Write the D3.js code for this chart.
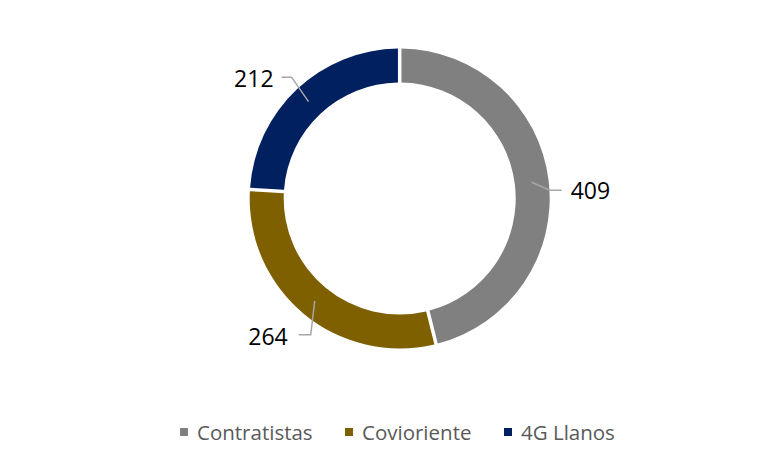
<!DOCTYPE html>
<html>
<head>
<meta charset="utf-8">
<script src="https://cdn.jsdelivr.net/npm/d3@7"></script>
<style>
  body { margin: 0; background: #fff; }
  svg { display: block; }
</style>
</head>
<body>
<div id="chart"></div>
<script>
// data
var categories = ["Contratistas", "Covioriente", "4G Llanos"];
var values = [409, 264, 212];
var colors = ["#808080", "#7f6000", "#002060"];

// svg size
var svgWidth = 763;
var svgHeight = 469;

// donut geometry
var cx = 399.7, cy = 198.5;
var outerR = 150, innerR = 116;
var labelR = 133;

// leader line elbows / ends relative to the slice centroid
var leaders = [
  { elbow: [18, 8], end: [30, 8], anchor: "start", tx: 39, ty: 17 },
  { elbow: [-4, 34], end: [-16, 34], anchor: "end", tx: -27, ty: 44 },
  { elbow: [-17, -24.5], end: [-27, -24.5], anchor: "end", tx: -35, ty: -14.5 }
];

var svg = d3.select("#chart").append("svg")
  .attr("width", svgWidth)
  .attr("height", svgHeight);

var g = svg.append("g")
  .attr("transform", `translate(${cx}, ${cy})`);

var pie = d3.pie().sort(null).padAngle(3.5 / Math.sqrt(innerR * innerR + outerR * outerR));
var arcs = pie(values);

var arc = d3.arc().innerRadius(innerR).outerRadius(outerR);
var midArc = d3.arc().innerRadius(labelR).outerRadius(labelR);

g.selectAll("path.slice")
  .data(arcs)
  .enter()
  .append("path")
  .attr("class", "slice")
  .attr("d", arc)
  .attr("fill", (d, i) => colors[i]);

// leader lines and labels
arcs.forEach(function(d, i) {
  var c = midArc.centroid(d);
  var L = leaders[i];
  var pts = [c, [c[0] + L.elbow[0], c[1] + L.elbow[1]], [c[0] + L.end[0], c[1] + L.end[1]]];
  g.append("polyline")
    .attr("points", pts.map(p => p.join(",")).join(" "))
    .attr("fill", "none")
    .attr("stroke", "#a6a6a6")
    .attr("stroke-width", 1.5);
  g.append("text")
    .attr("x", c[0] + L.tx)
    .attr("y", c[1] + L.ty)
    .attr("text-anchor", L.anchor)
    .attr("font-family", "Open Sans, sans-serif")
    .attr("font-size", "23px")
    .attr("fill", "#000")
    .text(values[i]);
});

// legend
var legendX = [180, 345, 504];
var legend = svg.append("g").attr("transform", "translate(0, 432)");
categories.forEach(function(name, i) {
  legend.append("rect")
    .attr("x", legendX[i])
    .attr("y", -4)
    .attr("width", 8)
    .attr("height", 8)
    .attr("fill", colors[i]);
  legend.append("text")
    .attr("x", legendX[i] + 17)
    .attr("y", 7.5)
    .attr("font-family", "Open Sans, sans-serif")
    .attr("font-size", "20.5px")
    .attr("fill", "#595959")
    .text(name);
});
</script>
</body>
</html>
